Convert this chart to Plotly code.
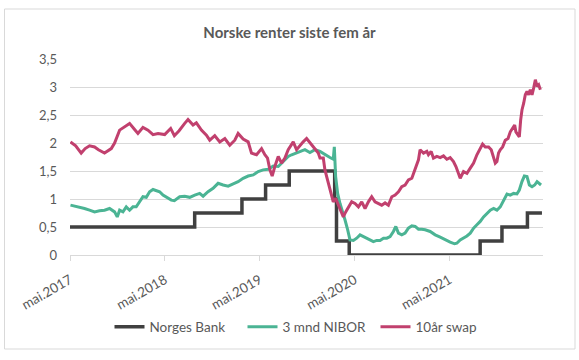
import plotly.graph_objects as go
import pandas as pd

# ---------------- data ----------------
START = pd.Timestamp("2017-05-29")  # first date on the x axis ("mai.2017")

# Norges Bank policy rate (step series)
nb_dates = ["2017-05-29", "2018-09-21", "2019-03-22", "2019-06-21", "2019-09-20",
            "2020-03-13", "2020-03-20", "2020-05-08", "2021-09-24", "2021-12-17",
            "2022-03-25", "2022-05-20"]
nb_values = [0.5, 0.75, 1.0, 1.25, 1.5, 1.0, 0.25, 0.0, 0.25, 0.5, 0.75, 0.75]

# 3 mnd NIBOR: time in years after START, and rate
nibor_t = [0.005, 0.047, 0.10, 0.153, 0.206, 0.259, 0.311, 0.364, 0.417, 0.47,
           0.498, 0.523, 0.558, 0.593, 0.628, 0.663, 0.698, 0.734, 0.769, 0.804,
           0.839, 0.875, 0.91, 0.945, 0.98, 1.033, 1.068, 1.10, 1.156, 1.209,
           1.262, 1.315, 1.367, 1.403, 1.455, 1.508, 1.561, 1.614, 1.667, 1.72,
           1.772, 1.825, 1.878, 1.931, 1.984, 2.036, 2.089, 2.142, 2.195, 2.248,
           2.30, 2.336, 2.388, 2.441, 2.476, 2.529, 2.582, 2.635, 2.687, 2.74,
           2.775, 2.786, 2.80, 2.821, 2.846, 2.87, 2.899, 2.927, 2.951, 2.987,
           3.022, 3.057, 3.092, 3.128, 3.163, 3.198, 3.233, 3.268, 3.304, 3.339,
           3.374, 3.409, 3.434, 3.462, 3.497, 3.532, 3.567, 3.603, 3.638, 3.673,
           3.708, 3.743, 3.796, 3.849, 3.902, 3.954, 4.007, 4.053, 4.077, 4.113,
           4.148, 4.184, 4.219, 4.254, 4.289, 4.324, 4.359, 4.395, 4.43, 4.465,
           4.50, 4.535, 4.571, 4.606, 4.641, 4.676, 4.711, 4.736, 4.764, 4.789,
           4.817, 4.842, 4.87, 4.898, 4.923, 4.947, 4.965]
nibor_values = [0.89, 0.875, 0.85, 0.83, 0.80, 0.77, 0.79, 0.80, 0.83, 0.77,
                0.68, 0.80, 0.77, 0.86, 0.80, 0.86, 0.86, 0.95, 1.04, 1.03,
                1.13, 1.17, 1.15, 1.13, 1.07, 1.01, 0.98, 0.97, 1.04, 1.05,
                1.03, 1.07, 1.10, 1.05, 1.13, 1.19, 1.28, 1.25, 1.23, 1.27,
                1.31, 1.37, 1.41, 1.43, 1.49, 1.52, 1.53, 1.59, 1.58, 1.67,
                1.76, 1.79, 1.82, 1.86, 1.88, 1.83, 1.88, 1.85, 1.79, 1.74,
                1.71, 1.93, 1.40, 1.10, 0.92, 0.80, 0.625, 0.45, 0.27, 0.26,
                0.30, 0.36, 0.33, 0.30, 0.27, 0.24, 0.26, 0.26, 0.30, 0.30,
                0.33, 0.42, 0.51, 0.39, 0.36, 0.39, 0.48, 0.52, 0.51, 0.46,
                0.46, 0.45, 0.42, 0.36, 0.32, 0.27, 0.23, 0.20, 0.21, 0.27,
                0.30, 0.34, 0.39, 0.48, 0.54, 0.60, 0.68, 0.74, 0.80, 0.83,
                0.80, 0.86, 0.98, 1.09, 1.07, 1.10, 1.09, 1.16, 1.31, 1.41,
                1.40, 1.25, 1.22, 1.25, 1.31, 1.28, 1.25]

# 10 år swap: time in years after START, and rate
swap_t = [0.005, 0.06, 0.118, 0.16, 0.206, 0.259, 0.30, 0.364, 0.435, 0.47,
          0.523, 0.575, 0.628, 0.681, 0.716, 0.769, 0.822, 0.875, 0.928, 0.998,
          1.061, 1.10, 1.15, 1.209, 1.244, 1.297, 1.332, 1.385, 1.438, 1.473,
          1.526, 1.579, 1.632, 1.684, 1.737, 1.772, 1.825, 1.878, 1.913, 1.966,
          2.019, 2.054, 2.082, 2.107, 2.131, 2.159, 2.195, 2.23, 2.265, 2.30,
          2.353, 2.388, 2.423, 2.458, 2.494, 2.529, 2.547, 2.582, 2.617, 2.635,
          2.67, 2.687, 2.705, 2.73, 2.751, 2.775, 2.80, 2.828, 2.856, 2.881,
          2.906, 2.934, 2.969, 3.004, 3.04, 3.075, 3.11, 3.145, 3.18, 3.215,
          3.25, 3.286, 3.321, 3.356, 3.392, 3.427, 3.462, 3.497, 3.532, 3.567,
          3.603, 3.638, 3.673, 3.69, 3.726, 3.761, 3.778, 3.807, 3.831, 3.867,
          3.902, 3.937, 3.972, 4.007, 4.042, 4.068, 4.095, 4.113, 4.148, 4.184,
          4.219, 4.254, 4.289, 4.324, 4.349, 4.377, 4.412, 4.44, 4.465, 4.483,
          4.50, 4.517, 4.535, 4.56, 4.588, 4.617, 4.641, 4.665, 4.687, 4.70,
          4.722, 4.736, 4.75, 4.764, 4.782, 4.799, 4.817, 4.834, 4.852, 4.87,
          4.887, 4.905, 4.923, 4.94, 4.958]
swap_values = [2.02, 1.95, 1.82, 1.90, 1.95, 1.93, 1.88, 1.82, 1.90, 2.00,
               2.23, 2.29, 2.35, 2.24, 2.17, 2.28, 2.23, 2.15, 2.17, 2.15,
               2.26, 2.13, 2.22, 2.35, 2.42, 2.32, 2.36, 2.23, 2.14, 2.05,
               2.13, 2.02, 2.08, 1.96, 2.05, 2.17, 2.07, 2.02, 1.82, 1.79,
               1.90, 1.79, 1.73, 1.52, 1.41, 1.58, 1.76, 1.64, 1.73, 1.88,
               2.02, 1.88, 1.96, 2.02, 2.08, 2.00, 1.96, 1.88, 1.82, 1.73,
               1.73, 1.52, 1.40, 1.25, 1.10, 0.95, 1.01, 0.89, 0.80, 0.68,
               0.77, 0.86, 0.95, 0.92, 0.86, 0.95, 0.83, 0.95, 1.04, 0.95,
               0.92, 0.89, 0.93, 0.89, 1.04, 1.07, 1.13, 1.22, 1.25, 1.34,
               1.37, 1.52, 1.70, 1.88, 1.82, 1.85, 1.79, 1.85, 1.73, 1.76,
               1.74, 1.77, 1.71, 1.74, 1.67, 1.58, 1.46, 1.37, 1.49, 1.46,
               1.55, 1.64, 1.79, 1.90, 1.98, 1.93, 1.93, 1.88, 1.76, 1.64,
               1.67, 1.82, 1.88, 1.93, 2.05, 2.08, 2.20, 2.26, 2.32, 2.20,
               2.14, 2.11, 2.41, 2.59, 2.71, 2.86, 2.92, 2.86, 2.95, 2.86,
               2.98, 3.13, 3.01, 3.04, 2.95]

# axis ticks
x_tickvals = ["2017-05-29", "2018-05-29", "2019-05-29", "2020-05-29", "2021-05-29"]
x_ticktext = ["mai.2017", "mai.2018", "mai.2019", "mai.2020", "mai.2021"]
y_tickvals = [0, 0.5, 1, 1.5, 2, 2.5, 3, 3.5]
y_ticktext = ["0", "0,5", "1", "1,5", "2", "2,5", "3", "3,5"]


def to_dates(ts):
    return [START + pd.Timedelta(days=t * 365.25) for t in ts]


FONT = "Lato, 'Noto Sans', sans-serif"
GREY = "#595959"
GRID = "#d9d9d9"

fig = go.Figure()
fig.add_trace(go.Scatter(x=nb_dates, y=nb_values, name="Norges Bank", mode="lines",
                         line=dict(color="#404040", width=3.5, shape="hv")))
fig.add_trace(go.Scatter(x=to_dates(nibor_t), y=nibor_values, name="3 mnd NIBOR",
                         mode="lines", line=dict(color="#4bb494", width=3)))
fig.add_trace(go.Scatter(x=to_dates(swap_t), y=swap_values, name="10år swap",
                         mode="lines", line=dict(color="#c1406e", width=3)))

ML, MR, MT, MB = 70, 36, 59, 105
W, H = 579, 360
PW, PH = W - ML - MR, H - MT - MB


def px2paper_x(px):
    return (px - ML) / PW


def px2paper_y(py):
    return (H - MB - py) / PH


fig.add_shape(type="rect", xref="paper", yref="paper",
              x0=px2paper_x(4.5), x1=px2paper_x(575),
              y0=px2paper_y(349), y1=px2paper_y(9),
              line=dict(color=GRID, width=1), layer="below")

fig.update_layout(
    width=W, height=H,
    margin=dict(l=ML, r=MR, t=MT, b=MB, autoexpand=False),
    paper_bgcolor="white", plot_bgcolor="white",
    font=dict(family=FONT, color=GREY, size=13),
    title=dict(text="<b>Norske renter siste fem år</b>", x=0.5, xanchor="center",
               y=1 - 33 / H, yanchor="middle",
               font=dict(family=FONT, size=15, color=GREY)),
    showlegend=True,
    legend=dict(orientation="h", x=px2paper_x(309), xanchor="center",
                y=px2paper_y(327), yanchor="middle",
                font=dict(family=FONT, size=13.5, color=GREY),
                itemwidth=30, entrywidth=88, entrywidthmode="pixels",
                bgcolor="rgba(0,0,0,0)"),
    xaxis=dict(type="date", range=["2017-05-29", "2022-05-24"],
               tickmode="array", tickvals=x_tickvals, ticktext=x_ticktext,
               tickangle=-30, ticks="outside", ticklen=5, tickcolor=GRID,
               ticklabelstandoff=6,
               showgrid=False, showline=True, linecolor=GRID, linewidth=1,
               zeroline=False, tickfont=dict(family=FONT, size=13.5, color=GREY)),
    yaxis=dict(range=[0, 3.5], tickmode="array", tickvals=y_tickvals,
               ticktext=y_ticktext, showgrid=True, gridcolor=GRID, gridwidth=1,
               zeroline=False, showline=False, ticks="",
               ticklabelstandoff=12,
               tickfont=dict(family=FONT, size=13, color=GREY)),
)

fig.write_html("out.html", config={"displayModeBar": False},
               post_script="document.body.style.margin='0';document.body.style.overflow='hidden';")
